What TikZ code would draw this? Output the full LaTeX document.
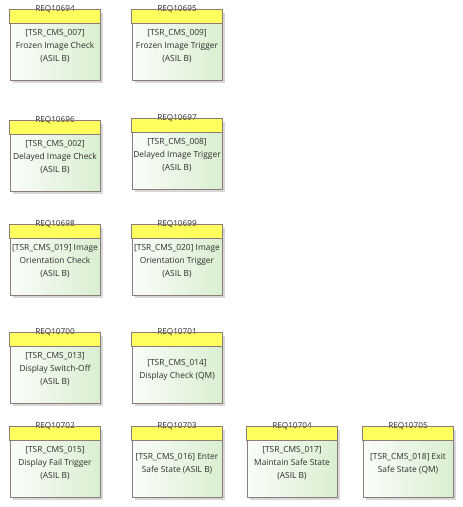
\documentclass[tikz,border=0pt]{standalone}
\usepackage{fontspec}
\setmainfont{Open Sans}
\usetikzlibrary{shadows}
\definecolor{reqborder}{HTML}{8C7C7C}
\definecolor{reqhead}{HTML}{FFFF5E}
\definecolor{reqgreen}{HTML}{D9EFD0}
\definecolor{reqlight}{HTML}{FAFDF8}
\definecolor{reqtext}{HTML}{2E2E2E}
\tikzset{
  reqbody/.style={draw=reqborder, line width=0.8pt, minimum width=90pt, minimum height=70pt,
    inner sep=0pt, left color=reqlight, right color=reqgreen,
    drop shadow={shadow xshift=2.5pt, shadow yshift=-2.5pt, fill=black!35, opacity=0.45}},
  reqtxt/.style={align=center, inner sep=0pt, text=reqtext, font=\fontsize{8.4}{13}\selectfont},
  reqhdr/.style={draw=reqborder, line width=0.8pt, fill=reqhead},
  reqid/.style={text=reqtext, font=\fontsize{8.2}{9}\selectfont, inner sep=0pt}
}
% one requirement element: name, centre, identifier, description
\newcommand{\reqel}[5]{%
  \node[reqbody] (#1) at (#2,#3) {};
  \path[reqhdr] (#1.north west) rectangle ([yshift=-14pt]#1.north east);
  \node[reqtxt] (#1txt) at ([yshift=-1.5pt]#1.center) {#5};
  \node[reqid] (#1id) at (#1.north) {#4};
  \draw[reqborder, line width=0.8pt] (#1.north west) -- (#1.north east);
}
\begin{document}
\begin{tikzpicture}[x=1pt,y=-1pt]
\useasboundingbox (0,0) rectangle (463,507);
\reqel{r94}{55}{45}{REQ10694}{[TSR\_CMS\_007]\\Frozen Image Check\\(ASIL B)}
\reqel{r95}{177}{45}{REQ10695}{[TSR\_CMS\_009]\\Frozen Image Trigger\\(ASIL B)}
\reqel{r96}{55}{156}{REQ10696}{[TSR\_CMS\_002]\\Delayed Image Check\\(ASIL B)}
\reqel{r97}{177}{154}{REQ10697}{[TSR\_CMS\_008]\\Delayed Image Trigger\\(ASIL B)}
\reqel{r98}{55}{260}{REQ10698}{[TSR\_CMS\_019] Image\\Orientation Check\\(ASIL B)}
\reqel{r99}{177}{260}{REQ10699}{[TSR\_CMS\_020] Image\\Orientation Trigger\\(ASIL B)}
\reqel{r100}{55}{368}{REQ10700}{[TSR\_CMS\_013]\\Display Switch-Off\\(ASIL B)}
\reqel{r101}{177}{368}{REQ10701}{[TSR\_CMS\_014]\\Display Check (QM)}
\reqel{r102}{55}{462}{REQ10702}{[TSR\_CMS\_015]\\Display Fail Trigger\\(ASIL B)}
\reqel{r103}{177}{462}{REQ10703}{[TSR\_CMS\_016] Enter\\Safe State (ASIL B)}
\reqel{r104}{292}{462}{REQ10704}{[TSR\_CMS\_017]\\Maintain Safe State\\(ASIL B)}
\reqel{r105}{408}{462}{REQ10705}{[TSR\_CMS\_018] Exit\\Safe State (QM)}
\end{tikzpicture}
\end{document}
